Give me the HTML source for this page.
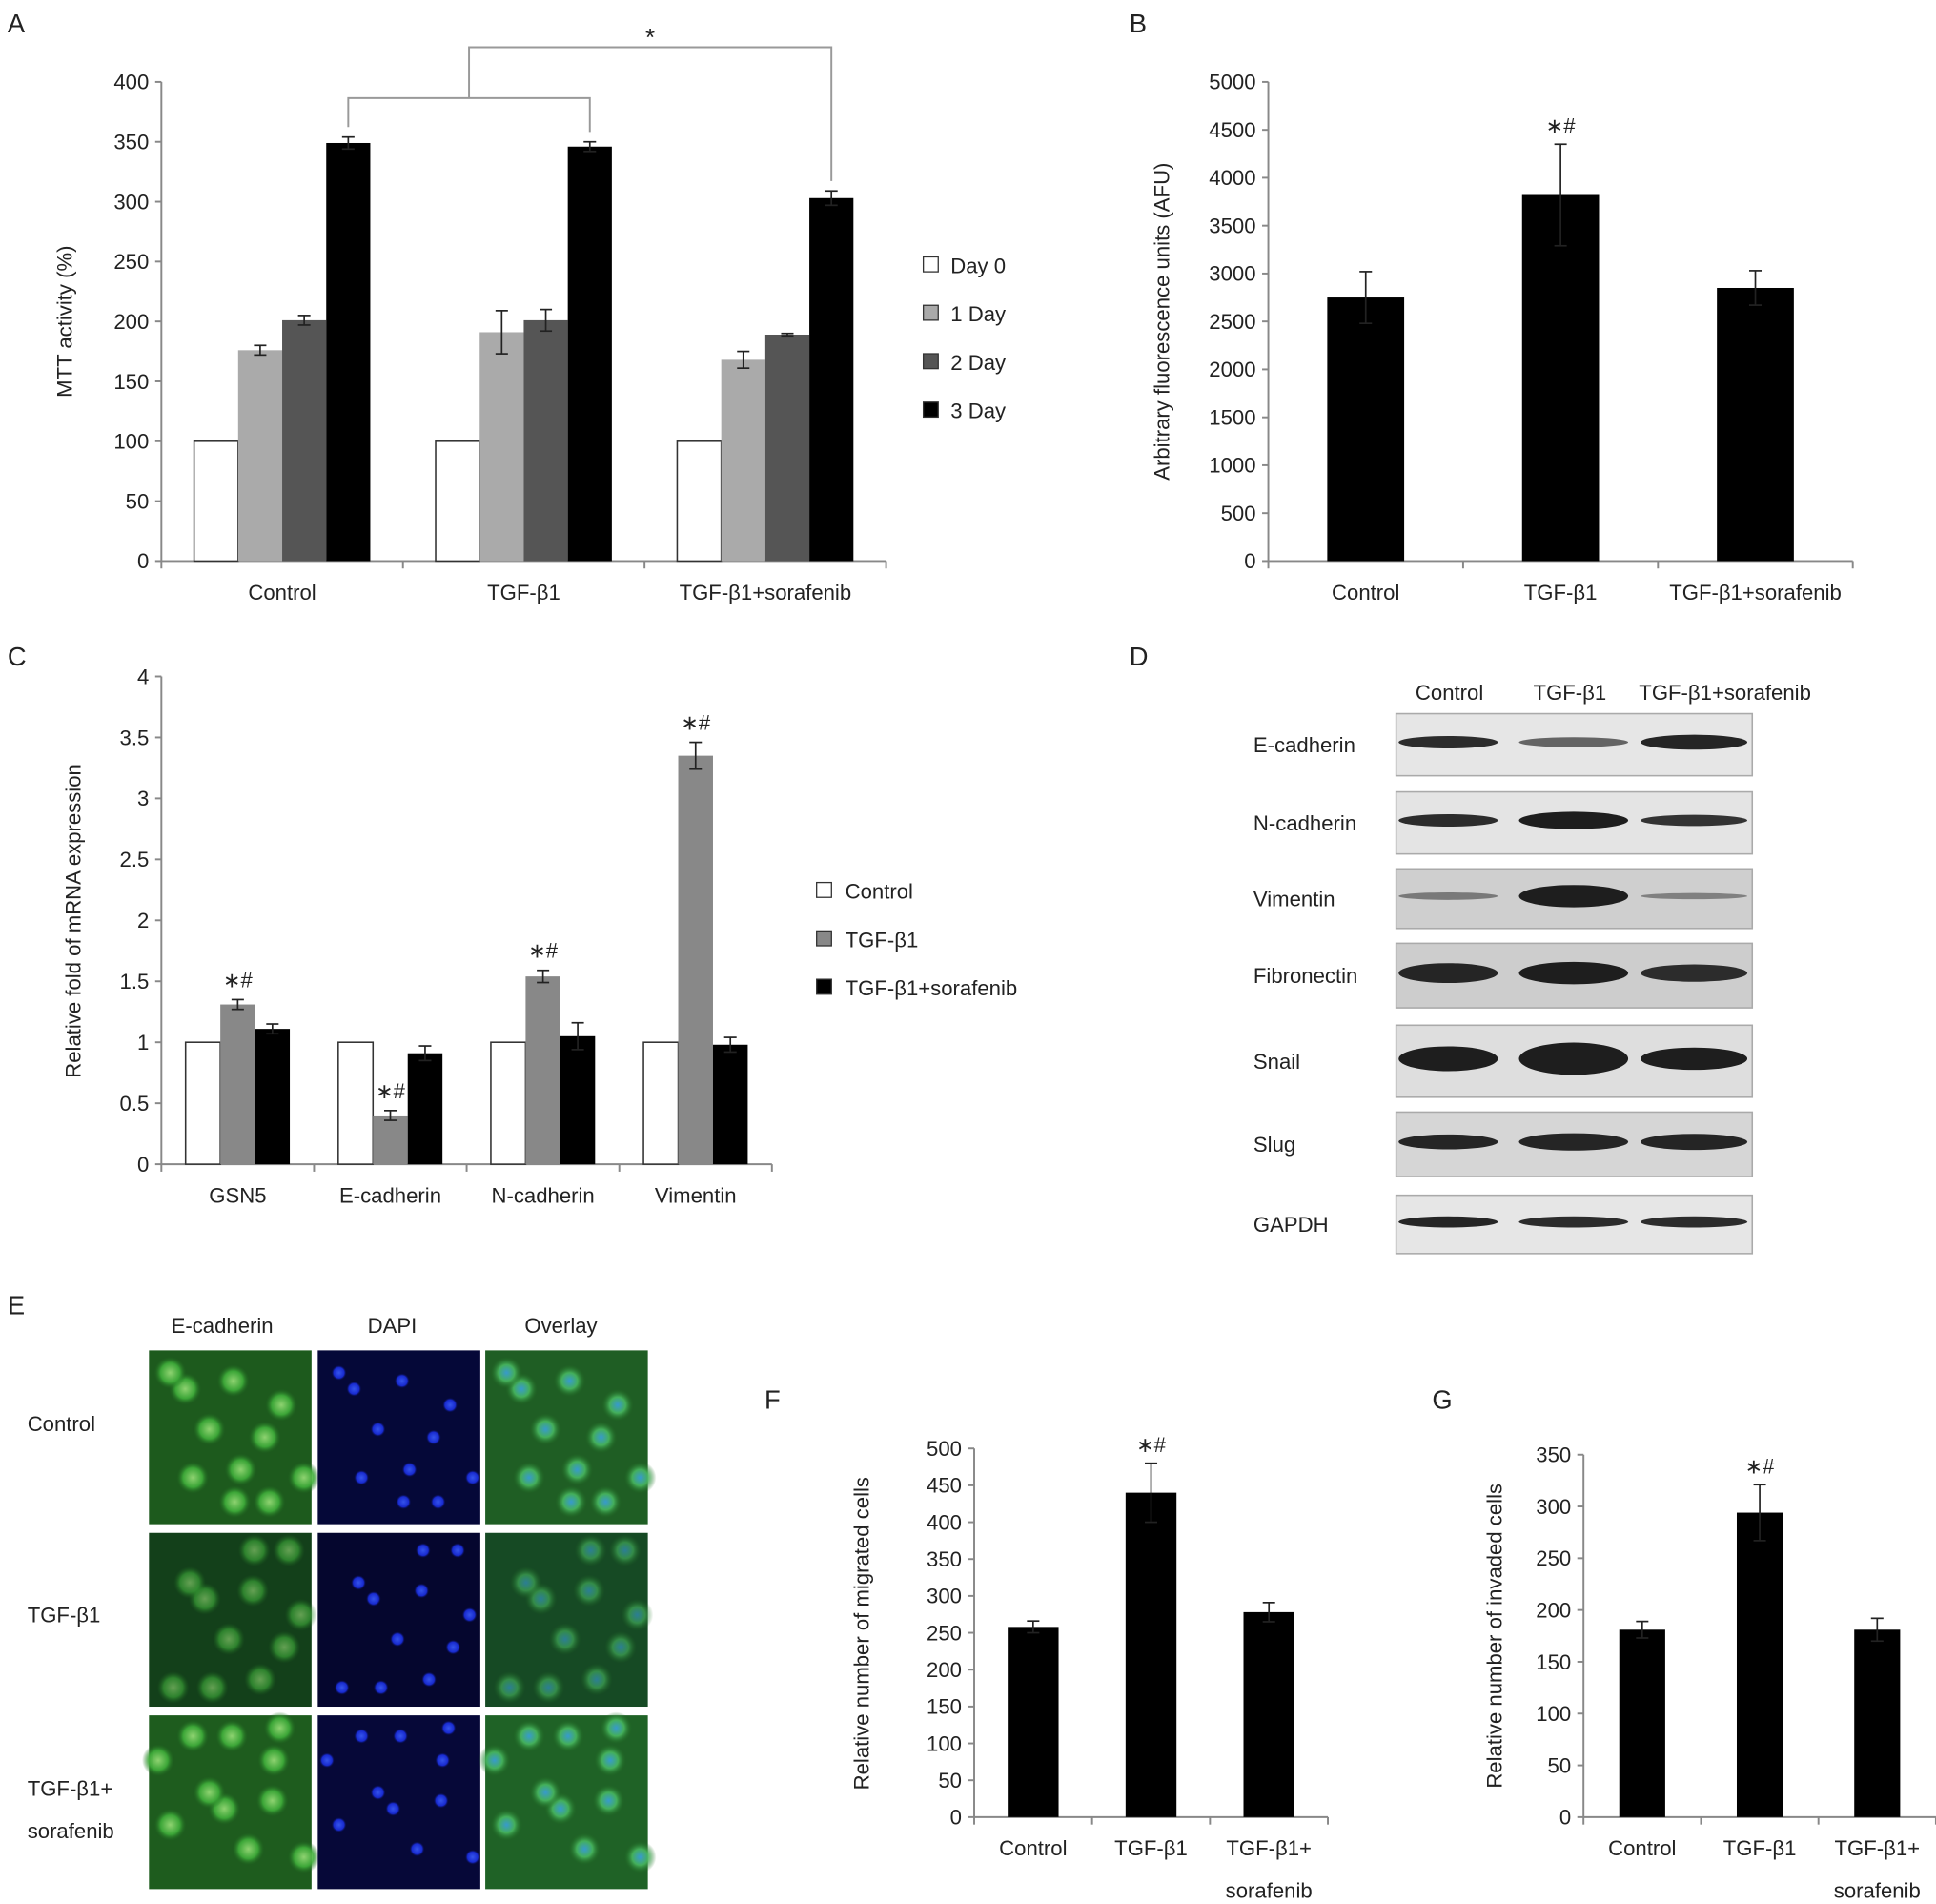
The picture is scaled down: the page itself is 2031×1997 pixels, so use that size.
<!DOCTYPE html>
<html><head><meta charset="utf-8">
<style>
html,body{margin:0;padding:0;background:#fff;}
svg{display:block;}
text{font-family:"Liberation Sans",Arial,sans-serif;fill:#222;}
</style></head>
<body>
<svg id="fig" xmlns="http://www.w3.org/2000/svg" width="2031" height="1997" viewBox="0 0 1560 1534">
<defs>
<radialGradient id="gcell"><stop offset="0" stop-color="#9be07a"/><stop offset="0.6" stop-color="#3fae3a"/><stop offset="1" stop-color="#1f6a20" stop-opacity="0"/></radialGradient>
<radialGradient id="bcell"><stop offset="0" stop-color="#3a5cff"/><stop offset="0.7" stop-color="#1a2ee0"/><stop offset="1" stop-color="#0a1060" stop-opacity="0"/></radialGradient>
<radialGradient id="ocell"><stop offset="0" stop-color="#3aa0e0"/><stop offset="0.5" stop-color="#48b860"/><stop offset="1" stop-color="#1f6a20" stop-opacity="0"/></radialGradient>
</defs>
<g id="root"></g>
</svg>
<script>
// ---------- Panel A data ----------
const aCategories = ["Control","TGF-β1","TGF-β1+sorafenib"];
const aSeriesNames = ["Day 0","1 Day","2 Day","3 Day"];
const aDay0 = [100,100,100];
const aDay1 = [176,191,168];
const aDay2 = [201,201,189];
const aDay3 = [349,346,303];
const aErr0 = [0,0,0];
const aErr1 = [4,18,7];
const aErr2 = [4,9,1];
const aErr3 = [5,4,6];
const aTicks = [0,50,100,150,200,250,300,350,400];
// ---------- Panel B data ----------
const bCategories = ["Control","TGF-β1","TGF-β1+sorafenib"];
const bValues = [2750,3820,2850];
const bErr = [270,530,180];
const bTicks = [0,500,1000,1500,2000,2500,3000,3500,4000,4500,5000];
// ---------- Panel C data ----------
const cCategories = ["GSN5","E-cadherin","N-cadherin","Vimentin"];
const cSeriesNames = ["Control","TGF-β1","TGF-β1+sorafenib"];
const cControl = [1,1,1,1];
const cTGF = [1.31,0.4,1.54,3.35];
const cSor = [1.11,0.91,1.05,0.98];
const cErrControl = [0,0,0,0];
const cErrTGF = [0.04,0.04,0.05,0.11];
const cErrSor = [0.04,0.06,0.11,0.06];
const cTicks = [0,0.5,1,1.5,2,2.5,3,3.5,4];
const cTickLabels = ["0","0.5","1","1.5","2","2.5","3","3.5","4"];
// ---------- Panel F data ----------
const fCategories = [["Control"],["TGF-β1"],["TGF-β1+","sorafenib"]];
const fValues = [258,440,278];
const fErr = [8,40,13];
const fTicks = [0,50,100,150,200,250,300,350,400,450,500];
// ---------- Panel G data ----------
const gCategories = [["Control"],["TGF-β1"],["TGF-β1+","sorafenib"]];
const gValues = [181,294,181];
const gErr = [8,27,11];
const gTicks = [0,50,100,150,200,250,300,350];

const NS="http://www.w3.org/2000/svg";
const root=document.getElementById('root');
function mk(tag,attrs,parent){const e=document.createElementNS(NS,tag);for(const k in attrs)e.setAttribute(k,attrs[k]);(parent||root).appendChild(e);return e;}
function txt(s,x,y,size,anchor,parent){const t=mk('text',{x:x,y:y,'font-size':size,'text-anchor':anchor||'start'},parent);t.textContent=s;return t;}
function line(x1,y1,x2,y2,stroke,w,parent){return mk('line',{x1:x1,y1:y1,x2:x2,y2:y2,stroke:stroke,'stroke-width':w||1.3},parent);}
function errBar(x,yTop,yBot,cap,parent){
  line(x,yTop,x,yBot,'#222',1.3,parent);
  line(x-cap,yTop,x+cap,yTop,'#222',1.3,parent);
  line(x-cap,yBot,x+cap,yBot,'#222',1.3,parent);
}
function yAxis(g,x,y0,y1,max,ticks,labels){
  const ys=v=>y0-(v/max)*(y0-y1);
  line(x,y0,x,y1,'#888',1.5,g);
  ticks.forEach((v,i)=>{line(x-5,ys(v),x,ys(v),'#888',1.5,g);
    const t=txt(labels?labels[i]:String(v),x-10,ys(v)+6,17,'end',g);
    });
  return ys;
}
function xAxis(g,x0,x1,y,n){
  line(x0,y,x1,y,'#888',1.5,g);
  const step=(x1-x0)/n;
  for(let i=0;i<=n;i++)line(x0+i*step,y,x0+i*step,y+6,'#888',1.5,g);
  return step;
}
function yTitle(g,s,x,y){const t=txt(s,0,0,17,'middle',g);t.setAttribute('transform','translate('+x+','+y+') rotate(-90)');}
function panelLabel(s,x,y){const t=txt(s,x,y,21,'start');}

// ---------- Panel A ----------
(function(){
  const g=mk('g',{});
  panelLabel('A',6,26);
  const ys=yAxis(g,130,452,66,400,aTicks);
  const step=xAxis(g,130,714,452,3);
  yTitle(g,'MTT activity (%)',58,259);
  const series=[aDay0,aDay1,aDay2,aDay3], errs=[aErr0,aErr1,aErr2,aErr3];
  const fills=['#fff','#aaa','#555','#000'];
  const bw=35.5;
  aCategories.forEach((c,i)=>{
    const cx=130+step*(i+0.5);
    series.forEach((s,j)=>{
      const x=cx-2*bw+j*bw;
      const r=mk('rect',{x:x,y:ys(s[i]),width:bw,height:452-ys(s[i]),fill:fills[j],stroke:j===0?'#333':'none','stroke-width':1.2},g);
      
      
      if(errs[j][i]>0)errBar(x+bw/2,ys(s[i]+errs[j][i]),ys(s[i]-errs[j][i]),5,g);
    });
    const t=txt(c,cx,483,17,'middle',g);
  });
  // legend
  const lg=mk('g',{},g);
  aSeriesNames.forEach((n,j)=>{
    const y=214+39*j;
    const r=mk('rect',{x:744,y:y-7,width:12,height:12,fill:fills[j],stroke:'#333','stroke-width':1},lg);
    
    const t=txt(n,766,y+6,17,'start',lg);
  });
  // significance brackets
  const x1=130+step*0.5+bw*1.5, x2=130+step*1.5+bw*1.5, x3=130+step*2.5+bw*1.5;
  const yb=79, yt=38;
  const br=mk('g',{},g);
  mk('polyline',{points:x1+','+(ys(aDay3[0]+aErr3[0])-8)+' '+x1+','+yb+' '+x2+','+yb+' '+x2+','+(ys(aDay3[1]+aErr3[1])-8),fill:'none',stroke:'#999','stroke-width':1.5},br);
  const xm=(x1+x2)/2;
  mk('polyline',{points:xm+','+yb+' '+xm+','+yt+' '+x3+','+yt+' '+x3+','+(ys(aDay3[2]+aErr3[2])-8),fill:'none',stroke:'#999','stroke-width':1.5},br);
  const st=txt('*',(xm+x3)/2,37,20,'middle',g);
})();

// ---------- simple single-series bar panel ----------
function simplePanel(name,cats,vals,errs,ticks,max,ax){
  const g=mk('g',{});
  const ys=yAxis(g,ax.x,ax.y0,ax.y1,max,ticks);
  const step=xAxis(g,ax.x,ax.xe,ax.y0,cats.length);
  yTitle(g,ax.title,ax.tx,ax.ty);
  cats.forEach((c,i)=>{
    const cx=ax.x+step*(i+0.5);
    const r=mk('rect',{x:cx-ax.bw/2,y:ys(vals[i]),width:ax.bw,height:ax.y0-ys(vals[i]),fill:'#000'},g);
    
    errBar(cx,ys(vals[i]+errs[i]),ys(vals[i]-errs[i]),5,g);
    const lines=Array.isArray(c)?c:[c];
    lines.forEach((l,k)=>{const t=txt(l,cx,ax.y0+31+k*34,17,'middle',g);});
    if(i===1){const s=txt('∗#',cx,ys(vals[i]+errs[i])-9,17,'middle',g);}
  });
}
panelLabel('B',910,26);
simplePanel('panel-b-afu-chart',bCategories,bValues,bErr,bTicks,5000,{x:1022,xe:1493,y0:452,y1:66,bw:62,title:'Arbitrary fluorescence units (AFU)',tx:942,ty:259});
panelLabel('F',616,1135);
simplePanel('panel-f-migration-chart',fCategories,fValues,fErr,fTicks,500,{x:785,xe:1070,y0:1464,y1:1167,bw:41,title:'Relative number of migrated cells',tx:700,ty:1316});
panelLabel('G',1154,1135);
simplePanel('panel-g-invasion-chart',gCategories,gValues,gErr,gTicks,350,{x:1276,xe:1560,y0:1464,y1:1172,bw:37,title:'Relative number of invaded cells',tx:1210,ty:1318});

// ---------- Panel C ----------
(function(){
  const g=mk('g',{});
  panelLabel('C',6,536);
  const ys=yAxis(g,130,938,545,4,cTicks,cTickLabels);
  const step=xAxis(g,130,622,938,4);
  yTitle(g,'Relative fold of mRNA expression',65,742);
  const series=[cControl,cTGF,cSor], errs=[cErrControl,cErrTGF,cErrSor];
  const fills=['#fff','#888','#000'];
  const bw=28;
  cCategories.forEach((c,i)=>{
    const cx=130+step*(i+0.5);
    series.forEach((s,j)=>{
      const x=cx-1.5*bw+j*bw;
      const r=mk('rect',{x:x,y:ys(s[i]),width:bw,height:938-ys(s[i]),fill:fills[j],stroke:j===0?'#333':'none','stroke-width':1.2},g);
      
      if(errs[j][i]>0)errBar(x+bw/2,ys(s[i]+errs[j][i]),ys(s[i]-errs[j][i]),5,g);
      if(j===1){const t=txt('∗#',x+bw/2,ys(s[i]+errs[j][i])-10,17,'middle',g);}
    });
    const t=txt(c,cx,969,17,'middle',g);
  });
  const lg=mk('g',{},g);
  cSeriesNames.forEach((n,j)=>{
    const y=718+39*j;
    const r=mk('rect',{x:658,y:y-7,width:12,height:12,fill:fills[j],stroke:'#333','stroke-width':1},lg);
    
    const t=txt(n,681,y+6,17,'start',lg);
  });
})();

// ---------- Panel D (western blot) ----------
const dProteins=["E-cadherin","N-cadherin","Vimentin","Fibronectin","Snail","Slug","GAPDH"];
const dIntensity=[[0.9,0.5,0.95],[0.9,1,0.85],[0.35,1,0.3],[0.95,1,0.9],[1,1,1],[0.95,0.95,0.95],[0.95,0.9,0.9]];
const dBandH=[[10,8,12],[10,14,9],[6,18,5],[16,18,14],[20,26,18],[12,14,13],[9,9,9]];
(function(){
  const g=mk('g',{});
  panelLabel('D',910,536);
  const heads=[['Control',1168],['TGF-β1',1265],['TGF-β1+sorafenib',1390]];
  heads.forEach(h=>{const t=txt(h[0],h[1],564,17,'middle',g);});
  const rows=[[575,625],[638,688],[700,748],[760,812],[826,884],[896,948],[963,1010]];
  const bgs=['#e6e6e6','#e4e4e4','#cfcfcf','#cdcdcd','#dedede','#d6d6d6','#e6e6e6'];
  const lanes=[1167,1268,1365];const lw=[80,88,86];
  rows.forEach((r,i)=>{
    const b=mk('rect',{x:1125,y:r[0],width:287,height:r[1]-r[0],fill:bgs[i],stroke:'#aaa','stroke-width':1.2},g);
    
    const cy=(r[0]+r[1])/2;
    lanes.forEach((lx,k)=>{
      const v=dIntensity[i][k];const c=Math.round(30+(1-v)*140);
      const e=mk('ellipse',{cx:lx,cy:cy-2,rx:lw[k]/2,ry:dBandH[i][k]/2,fill:'rgb('+c+','+c+','+c+')'},g);
      
    });
    const t=txt(dProteins[i],1010,(r[0]+r[1])/2+6,17,'start',g);
  });
})();

// ---------- Panel E (immunofluorescence) ----------
(function(){
  const g=mk('g',{});
  panelLabel('E',6,1059);
  [['E-cadherin',179],['DAPI',316],['Overlay',452]].forEach(h=>{const t=txt(h[0],h[1],1074,17,'middle',g);});
  const rl=[['Control',1153],['TGF-β1',1307],['TGF-β1+',1447],['sorafenib',1481]];
  rl.forEach(h=>{const t=txt(h[0],22,h[1],17,'start',g);});
  const cols=[120,256,391], rowsY=[1088,1235,1382];
  const bg=[['#1d5a1d','#050838','#1f5e24'],['#13401a','#05062e','#164a24'],['#1e5c1e','#060838','#1f6226']];
  const cells=[[0.2,0.2],[0.5,0.15],[0.8,0.3],[0.3,0.45],[0.65,0.5],[0.15,0.75],[0.45,0.7],[0.85,0.75],[0.6,0.9],[0.35,0.9],[0.9,0.1]];
  rowsY.forEach((y,ri)=>{cols.forEach((x,ci)=>{
    const r=mk('rect',{x:x,y:y,width:131,height:140,fill:bg[ri][ci]},g);
    
    cells.forEach((p,k)=>{
      const px=x+((p[0]+ri*0.13+k*0.02)%1)*121+5, py=y+((p[1]+ri*0.17)%1)*130+5;
      const fill=ci===0?'url(#gcell)':ci===1?'url(#bcell)':'url(#ocell)';
      const rad=ci===1?6:13;
      mk('circle',{cx:px,cy:py,r:rad,fill:fill,opacity:ri===1&&ci!==1?0.6:0.9},g);
    });
  });});
})();
</script>
</body></html>
